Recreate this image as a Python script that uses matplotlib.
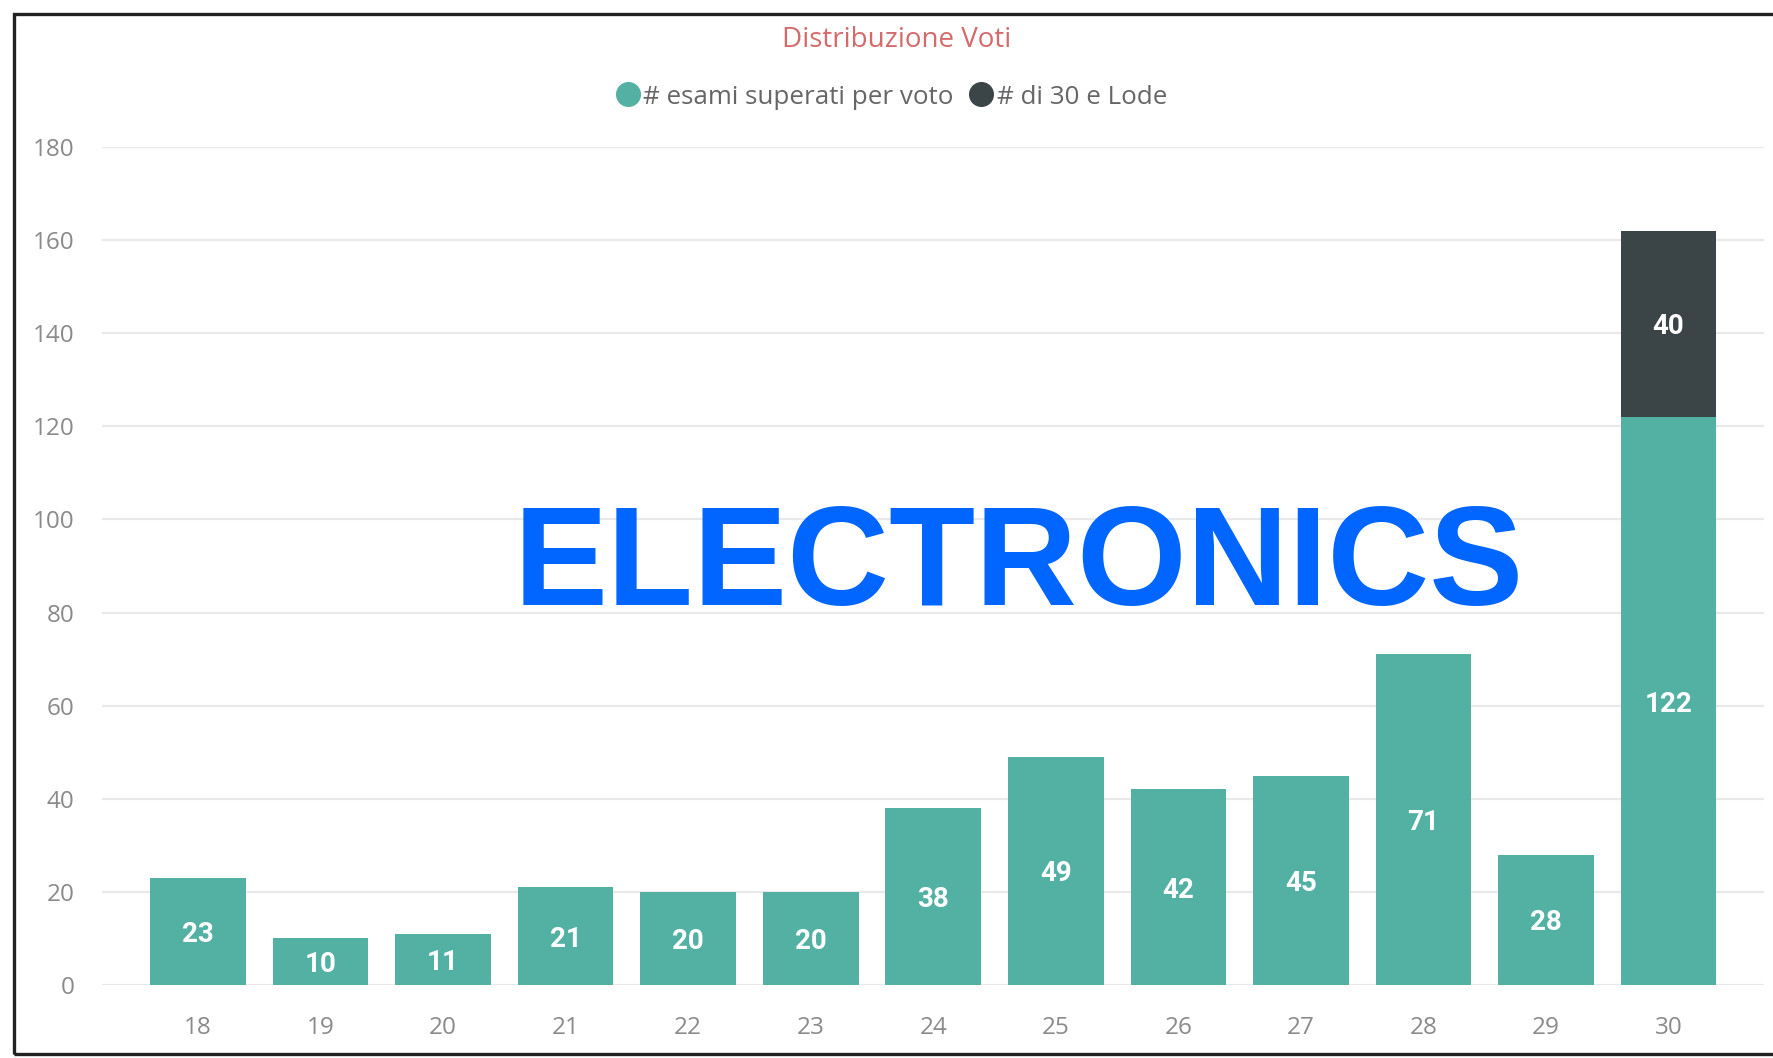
import matplotlib
matplotlib.use("Agg")
import matplotlib.pyplot as plt
from matplotlib.patches import Rectangle
from matplotlib.lines import Line2D

# Grade distribution
grades = ["18", "19", "20", "21", "22", "23", "24", "25", "26", "27", "28", "29", "30"]
passed = [23, 10, 11, 21, 20, 20, 38, 49, 42, 45, 71, 28, 122]
lode = [0, 0, 0, 0, 0, 0, 0, 0, 0, 0, 0, 0, 40]
y_ticks = [0, 20, 40, 60, 80, 100, 120, 140, 160, 180]

TEAL = "#53b1a3"
DARK = "#3b4447"
TICK_GRAY = "#8a8a8a"
GRID = "#e9e9e9"

W, H = 1773, 1058
fig = plt.figure(figsize=(W / 100, H / 100), dpi=100)
fig.patch.set_facecolor("white")

ax = fig.add_axes([102 / W, 1 - 985 / H, (1764 - 102) / W, (985 - 147) / H])
x = list(range(len(grades)))
ax.bar(x, passed, width=0.78, color=TEAL, zorder=2)
ax.bar(x, lode, width=0.78, bottom=passed, color=DARK, zorder=2)

ax.set_xlim(-0.784, 12.78)
ax.set_ylim(0, 180)
ax.set_yticks(y_ticks)
ax.set_xticks(x)
ax.set_xticklabels(grades)
ax.grid(axis="y", color=GRID, linewidth=1.6, zorder=0)
for s in ax.spines.values():
    s.set_visible(False)
ax.tick_params(axis="both", length=0, labelsize=17.5, colors=TICK_GRAY)
ax.tick_params(axis="x", pad=22.5)
ax.tick_params(axis="y", pad=20)
for lab in ax.get_xticklabels() + ax.get_yticklabels():
    lab.set_family("Open Sans")

# Value labels inside bars
for xi, v in zip(x, passed):
    ax.text(xi, v / 2, str(v), ha="center", va="center_baseline", color="white",
            fontsize=20, fontweight="bold", family="Roboto", zorder=3)
for xi, b, v in zip(x, passed, lode):
    if v > 0:
        ax.text(xi, b + v / 2, str(v), ha="center", va="center_baseline", color="white",
                fontsize=20, fontweight="bold", family="Roboto", zorder=3)

# Title
fig.text(897 / W, 1 - 40 / H, "Distribuzione Voti", ha="center", va="center",
         color="#d46a6a", fontsize=20, family="Open Sans")

# Legend
handles = [
    Line2D([], [], marker="o", linestyle="", markersize=17, color=TEAL),
    Line2D([], [], marker="o", linestyle="", markersize=17, color=DARK),
]
fig.legend(handles, ["# esami superati per voto", "# di 30 e Lode"],
           loc="center", bbox_to_anchor=(891 / W, 1 - 97 / H), ncol=2,
           frameon=False, handlelength=1.0, handletextpad=0.1, columnspacing=0.55,
           prop={"family": "Open Sans", "size": 18.7}, labelcolor="#666666")

# Overlay heading
fig.text(1019 / W, 1 - 605 / H, "ELECTRONICS", ha="center", va="baseline",
         color="#0066ff", fontsize=101.5, fontweight="bold", family="Liberation Sans")

# Outer frame
fig.patches.append(Rectangle((14 / W, 1 - 1054 / H), 1.2, (1054 - 14) / H,
                             transform=fig.transFigure, fill=False,
                             edgecolor="#222222", linewidth=2.4))

fig.savefig("out.png", dpi=100)
